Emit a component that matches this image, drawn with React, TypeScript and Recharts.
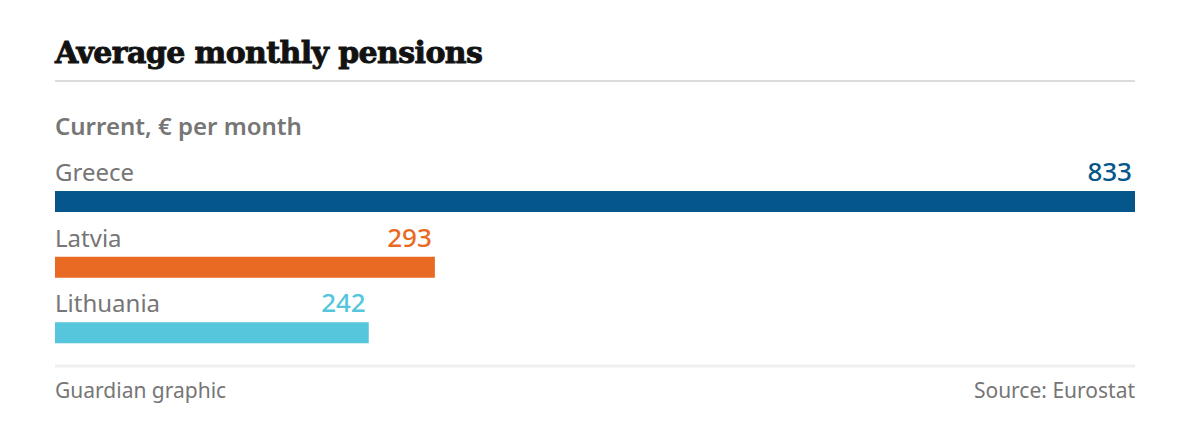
import React from 'react';
import { BarChart, Bar, XAxis, YAxis, Cell, LabelList } from 'recharts';

const countries = ['Greece', 'Latvia', 'Lithuania'];
const pensions = [833, 293, 242];
const barColors = ['#05568a', '#e96a23', '#55c6dc'];

const data = countries.map((country, i) => ({ country, value: pensions[i] }));

const SANS = '"Noto Sans", "Open Sans", sans-serif';
const GREY = '#767676';

const RowLabel = (props: any) => {
  const { x, y, width, value, index } = props;
  const color = barColors[index] ?? GREY;
  return (
    <g>
      <text x={55} y={y - 10} fill={GREY} fontSize={24} fontFamily={SANS}>
        {countries[index]}
      </text>
      <text
        x={x + width - 3}
        y={y - 10}
        fill={color}
        fontSize={26}
        fontWeight={500}
        fontFamily={SANS}
        textAnchor="end"
      >
        {value}
      </text>
    </g>
  );
};

export default function App() {
  return (
    <div style={{ position: 'absolute', left: 0, top: 0, width: 1200, height: 441, background: '#fff' }}>
      <BarChart
        layout="vertical"
        width={1200}
        height={441}
        data={data}
        margin={{ top: 169, right: 65, bottom: 75, left: 55 }}
      >
        <XAxis type="number" domain={[0, 833]} hide />
        <YAxis type="category" dataKey="country" hide width={0} />
        <Bar dataKey="value" barSize={21} isAnimationActive={false}>
          {data.map((d, i) => (
            <Cell key={d.country} fill={barColors[i]} />
          ))}
          <LabelList dataKey="value" content={RowLabel} />
        </Bar>
      </BarChart>
      <svg
        width={1200}
        height={441}
        style={{ position: 'absolute', left: 0, top: 0, pointerEvents: 'none' }}
      >
        {/* slight stroke to approximate the heavier Guardian headline face */}
        <text
          x={55}
          y={63}
          fontFamily='"DejaVu Serif", serif'
          fontWeight={700}
          fontSize={30}
          fill="#121212"
          stroke="#121212"
          strokeWidth={0.9}
          letterSpacing={-0.6}
        >
          Average monthly pensions
        </text>
        <line x1={55} x2={1135} y1={81} y2={81} stroke="#dcdcdc" strokeWidth={2} />
        <text x={55} y={135} fontFamily={SANS} fontWeight={600} fontSize={24} fill={GREY}>
          Current, € per month
        </text>
        <line x1={55} x2={1135} y1={366} y2={366} stroke="#efefef" strokeWidth={3} />
        <text x={55} y={398} fontFamily={SANS} fontSize={21} fill={GREY}>
          Guardian graphic
        </text>
        <text x={1135} y={398} fontFamily={SANS} fontSize={21} fill={GREY} textAnchor="end">
          Source: Eurostat
        </text>
      </svg>
    </div>
  );
}
